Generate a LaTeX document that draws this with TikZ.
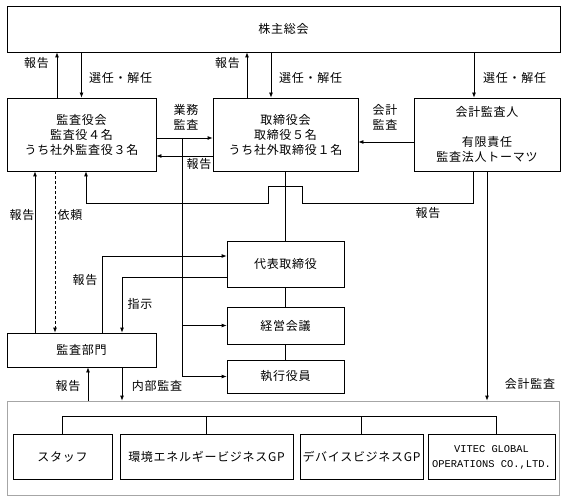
\documentclass[tikz,border=0pt]{standalone}
\usepackage{fontspec}
\setmainfont{Noto Sans CJK JP}[LetterSpace=6]
\newfontfamily\latinmono{Liberation Mono}
\usepackage{tikz}
\usetikzlibrary{arrows.meta,positioning}
\tikzset{
    box/.style={
    rectangle,draw=black,line width=0.8pt,align=center,inner sep=0pt
    },
    groupbox/.style={
    rectangle,draw=black!35,line width=0.8pt,inner sep=0pt
    },
    lab/.style={inner sep=1pt,align=center},
  line/.style={draw, line width=0.8pt, ->},
  plain/.style={draw, line width=0.8pt}
}

\begin{document}
\begin{tikzpicture}[x=1pt,y=-1pt,>={Latex[length=5pt,width=4pt]},font=\fontsize{12}{15}\selectfont]
    \useasboundingbox (0,0) rectangle (567,502);

    \node[box,minimum width=553pt,minimum height=46pt] (soukai) at (283.5,29) {株主総会};

    \node[box,minimum width=149pt,minimum height=73pt] (kansa) at (81.5,134.5) {監査役会\\監査役４名\\うち社外監査役３名};
    \node[box,minimum width=145pt,minimum height=73pt] (torishi) at (285.5,134.5) {取締役会\\取締役５名\\うち社外取締役１名};
    \node[box,minimum width=146pt,minimum height=73pt] (kaikei) at (487,134.5) {会計監査人\\ \\有限責任\\監査法人トーマツ};

    \node[box,minimum width=117pt,minimum height=46pt] (daihyo) at (285.5,264) {代表取締役};
    \node[box,minimum width=117pt,minimum height=37pt] (keiei) at (285.5,325.5) {経営会議};
    \node[box,minimum width=117pt,minimum height=33pt] (shikko) at (285.5,376.5) {執行役員};
    \node[box,minimum width=149pt,minimum height=34pt] (bumon) at (81.5,350) {監査部門};

    \node[groupbox,minimum width=552pt,minimum height=94pt] (group) at (283,448) {};
    \node[box,minimum width=99pt,minimum height=45pt] (staff) at (62.5,457) {スタッフ};
    \node[box,minimum width=173pt,minimum height=45pt] (kankyo) at (206.5,457) {環境エネルギービジネスGP};
    \node[box,minimum width=123pt,minimum height=45pt] (device) at (361.5,457) {デバイスビジネスGP};
    \node[box,minimum width=127pt,minimum height=45pt] (vitec) at (491.5,457) {\latinmono\fontsize{10.4}{15}\selectfont VITEC GLOBAL\\\latinmono\fontsize{10.4}{15}\selectfont OPERATIONS CO.,LTD.};

    % labels
    \node[lab,anchor=east] (hk1) at (50,63) {報告};
    \node[lab,anchor=west] (sn1) at (88,78) {選任・解任};
    \node[lab,anchor=east] (hk2) at (241,63) {報告};
    \node[lab,anchor=west] (sn2) at (278,78) {選任・解任};
    \node[lab,anchor=west] (sn3) at (482,78) {選任・解任};
    \node[lab] (gyomu) at (186,117.5) {業務\\監査};
    \node[lab] (hk3) at (199,164) {報告};
    \node[lab] (kk1) at (385,117.5) {会計\\監査};
    \node[lab] (hk4) at (428,213) {報告};
    \node[lab] (hk5) at (22,215) {報告};
    \node[lab] (irai) at (70,215) {依頼};
    \node[lab] (hk6) at (85,280) {報告};
    \node[lab] (shiji) at (140,304) {指示};
    \node[lab] (hk7) at (68,386) {報告};
    \node[lab] (naibu) at (157,386) {内部監査};
    \node[lab] (kk2) at (530,384) {会計監査};

    \coordinate (rail) at (182,138);

    \begin{scope} [every path/.style=line]
      \path (kansa.north -| 57,0) -- (soukai.south -| 57,0);
      \path (soukai.south -| kansa.north) -- (kansa.north);
      \path (torishi.north -| 247,0) -- (soukai.south -| 247,0);
      \path (soukai.south -| 271,0) -- (torishi.north -| 271,0);
      \path (soukai.south -| 474,0) -- (kaikei.north -| 474,0);

      \path (kansa.east |- rail) -- (torishi.west |- rail);
      \path (torishi.west |- 0,156) -- (kansa.east |- 0,156);
      \path (kaikei.west |- 0,142) -- (torishi.east |- 0,142);

      \path (rail) |- (shikko.west);
      \path (rail |- keiei.west) -- (keiei.west);

      \path (kaikei.south -| 473,0) -- (473,203) -- (302,203) -- (302,186) -- (268,186) -- (268,203) -- (86,203) -- (kansa.south -| 86,0);

      \path (bumon.north -| 35,0) -- (kansa.south -| 35,0);
      \path[dashed,dash pattern=on 3pt off 2pt] (kansa.south -| 55,0) -- (bumon.north -| 55,0);
      \path (bumon.north -| 102,0) |- (daihyo.west |- 0,256);
      \path (daihyo.west |- 0,277) -| (bumon.north -| 122,0);

      \path (group.north -| 88,0) -- (bumon.south -| 88,0);
      \path (bumon.south -| 122,0) -- (group.north -| 122,0);
      \path (kaikei.south) -- (kaikei.south |- group.north);
    \end{scope}

    \begin{scope} [every path/.style=plain]
      \path (torishi.south) -- (daihyo.north);
      \path (daihyo) -- (keiei);
      \path (keiei) -- (shikko);

      \path (staff.north) -- (staff.north |- 0,416) -- (496,416) -- (vitec.north -| 496,0);
      \path (kankyo.north) -- (kankyo.north |- 0,416);
      \path (device.north) -- (device.north |- 0,416);
    \end{scope}
\end{tikzpicture}
\end{document}
